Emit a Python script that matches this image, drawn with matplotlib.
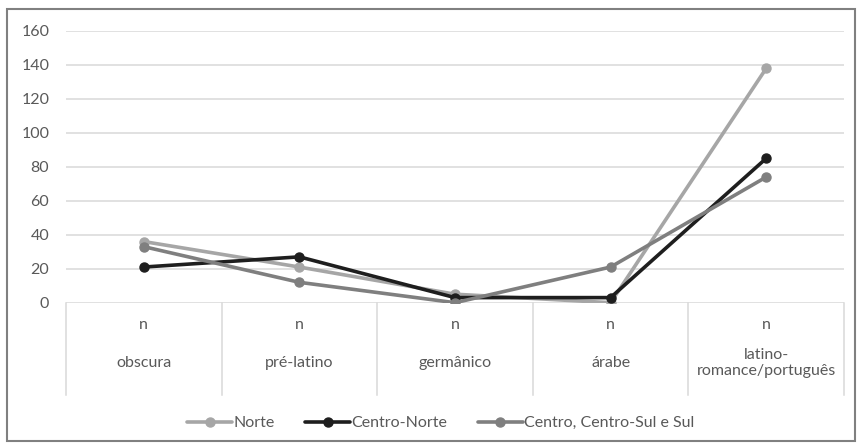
import matplotlib
matplotlib.use("Agg")
import matplotlib.pyplot as plt
from matplotlib.transforms import blended_transform_factory
from matplotlib.patches import Rectangle

categories = ["obscura", "pré-latino", "germânico", "árabe", "latino-\nromance/português"]
sub_labels = ["n", "n", "n", "n", "n"]
series_names = ["Norte", "Centro-Norte", "Centro, Centro-Sul e Sul"]
norte = [36, 21, 5, 0, 138]
centro_norte = [21, 27, 3, 3, 85]
centro_sul = [33, 12, 0, 21, 74]
yticks = [0, 20, 40, 60, 80, 100, 120, 140, 160]

plt.rcParams['font.family'] = ['Lato', 'DejaVu Sans']
txtc = "#595959"
fs = 11.5

W, H = 861, 448
fig = plt.figure(figsize=(W / 100, H / 100), dpi=100)
fig.patches.append(Rectangle((7 / W, 1 - 441 / H), 848 / W, 432 / H, transform=fig.transFigure,
                             fill=False, edgecolor="#808080", linewidth=1.5))

x0, x1, y0, y1 = 66, 844, 302.7, 31
ax = fig.add_axes([x0 / W, 1 - y0 / H, (x1 - x0) / W, (y0 - y1) / H])
x = list(range(len(categories)))
colors = ["#a6a6a6", "#1e1e1e", "#7f7f7f"]
for vals, name, c in zip([norte, centro_norte, centro_sul], series_names, colors):
    ax.plot(x, vals, color=c, lw=2.6, marker="o", ms=6.5, label=name, solid_capstyle="round", zorder=3)

ax.set_xlim(-0.5, len(categories) - 0.5)
ax.set_ylim(0, 160)
ax.set_yticks(yticks)
ax.set_yticklabels([str(t) for t in yticks], fontsize=fs, color=txtc)
ax.tick_params(axis="y", length=0, pad=12)
ax.set_xticks([])
ax.grid(axis="y", color="#d9d9d9", lw=1.1, zorder=0)
for s in ["top", "right", "left", "bottom"]:
    ax.spines[s].set_visible(False)

tr = blended_transform_factory(ax.transData, ax.transAxes)
axh = y0 - y1
ybot = -(395 - y0) / axh
for b in [i - 0.5 for i in range(len(categories) + 1)]:
    ax.plot([b, b], [0, ybot], transform=tr, color="#d9d9d9", lw=1.1, clip_on=False)
for i, (sub, cat) in enumerate(zip(sub_labels, categories)):
    ax.text(i, -(325 - y0) / axh, sub, transform=tr, ha="center", va="center", fontsize=fs, color=txtc)
    ax.text(i, -(363 - y0) / axh, cat, transform=tr, ha="center", va="center", fontsize=fs,
            color=txtc, linespacing=1.25)

fig.legend(loc="center", bbox_to_anchor=(441 / W, 1 - 423 / H), ncol=3, frameon=False,
           fontsize=fs, labelcolor=txtc, handlelength=2.8, handletextpad=0.1, columnspacing=1.9)

fig.savefig("out.png", dpi=100)
